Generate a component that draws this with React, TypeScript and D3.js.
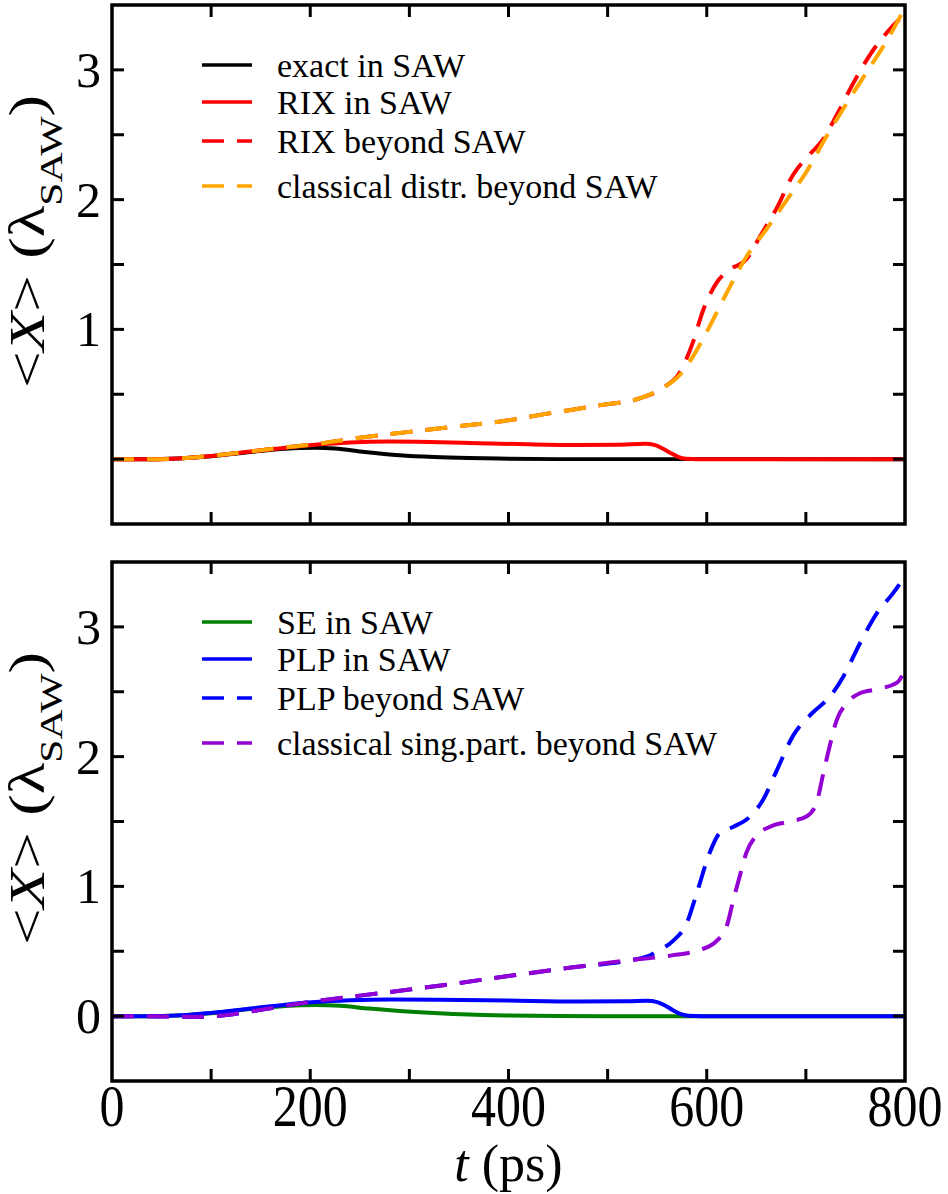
import React from "react";
import * as d3 from "d3";

type Pt = [number, number];

// upper panel: exact vs. RIX vs. classical distribution
const exactInSaw: Pt[] = [
  [0, 0], [45, 0], [75, 0.008], [100, 0.022], [140, 0.055], [175, 0.08], [205, 0.088],
  [225, 0.082], [255, 0.055], [290, 0.03], [325, 0.016], [360, 0.008], [400, 0.003],
  [450, 0], [800, 0],
];
const rixInSaw: Pt[] = [
  [0, 0], [45, 0], [75, 0.008], [100, 0.024], [140, 0.058], [175, 0.088], [205, 0.11],
  [240, 0.128], [280, 0.135], [320, 0.132], [370, 0.123], [420, 0.114], [470, 0.109],
  [510, 0.11], [538, 0.118], [548, 0.108], [556, 0.08], [564, 0.045], [571, 0.018],
  [579, 0.003], [590, 0], [800, 0],
];
const rixBeyondSaw: Pt[] = [
  [0, 0], [45, 0], [75, 0.008], [100, 0.025], [140, 0.06], [175, 0.09], [205, 0.115],
  [250, 0.165], [300, 0.21], [350, 0.255], [392, 0.29], [435, 0.345], [492, 0.415],
  [533, 0.47], [556, 0.55], [573, 0.67], [586, 0.9], [596, 1.14], [610, 1.36], [623, 1.46],
  [640, 1.54], [654, 1.72], [671, 1.94], [687, 2.19], [704, 2.35], [717, 2.46], [731, 2.65],
  [748, 2.9], [765, 3.12], [782, 3.29], [800, 3.43],
];
const classicalDistr: Pt[] = [
  [0, 0], [45, 0], [75, 0.008], [100, 0.025], [140, 0.06], [175, 0.09], [205, 0.115],
  [250, 0.165], [300, 0.21], [350, 0.255], [392, 0.29], [435, 0.345], [492, 0.415],
  [533, 0.47], [556, 0.55], [573, 0.65], [586, 0.79], [600, 0.98], [620, 1.28], [640, 1.56],
  [661, 1.78], [681, 2.0], [701, 2.22], [721, 2.49], [741, 2.74], [762, 2.99], [782, 3.23],
  [800, 3.48],
];

// lower panel: SE vs. PLP vs. classical single particle
const seInSaw: Pt[] = [
  [0, 0], [45, 0], [75, 0.008], [100, 0.022], [140, 0.055], [175, 0.078], [205, 0.086],
  [230, 0.08], [260, 0.058], [290, 0.04], [325, 0.024], [360, 0.012], [400, 0.005],
  [450, 0.001], [500, 0], [800, 0],
];
const plpInSaw: Pt[] = [
  [0, 0], [45, 0], [75, 0.008], [100, 0.025], [140, 0.058], [175, 0.088], [205, 0.108],
  [240, 0.122], [280, 0.128], [330, 0.127], [400, 0.12], [470, 0.113], [520, 0.114],
  [540, 0.118], [550, 0.108], [558, 0.082], [566, 0.045], [574, 0.015], [582, 0.002],
  [595, 0], [800, 0],
];
const plpBeyondSaw: Pt[] = [
  [0, 0], [40, 0], [60, -0.004], [85, -0.006], [105, 0], [125, 0.018], [150, 0.048],
  [175, 0.08], [200, 0.11], [250, 0.158], [300, 0.205], [350, 0.255], [391, 0.3],
  [459, 0.37], [526, 0.435], [540, 0.46], [550, 0.5], [566, 0.58], [580, 0.72], [590, 0.95],
  [603, 1.26], [613, 1.41], [627, 1.46], [644, 1.54], [657, 1.67], [671, 1.9], [687, 2.16],
  [707, 2.34], [724, 2.46], [738, 2.62], [755, 2.88], [772, 3.11], [788, 3.26], [800, 3.39],
];
const classicalSingPart: Pt[] = [
  [0, 0], [40, 0], [60, -0.004], [85, -0.006], [105, 0], [125, 0.018], [150, 0.048],
  [175, 0.08], [200, 0.11], [250, 0.158], [300, 0.205], [350, 0.255], [391, 0.3],
  [459, 0.37], [526, 0.435], [566, 0.47], [593, 0.51], [610, 0.58], [620, 0.69], [627, 0.9],
  [634, 1.1], [640, 1.26], [650, 1.39], [664, 1.46], [684, 1.5], [701, 1.54], [711, 1.65],
  [717, 1.85], [724, 2.08], [731, 2.28], [741, 2.41], [755, 2.49], [772, 2.52], [792, 2.57],
  [800, 2.67],
];

const topLabels = ["exact in SAW", "RIX in SAW", "RIX beyond SAW", "classical distr. beyond SAW"];
const bottomLabels = ["SE in SAW", "PLP in SAW", "PLP beyond SAW", "classical sing.part. beyond SAW"];
const topYTickLabels = [1, 2, 3];
const bottomYTickLabels = [0, 1, 2, 3];
const xTickLabels = [0, 200, 400, 600, 800];

const FONT = "'Liberation Serif', 'Times New Roman', serif";
const LEFT = 112;
const RIGHT = 905;
const DASH = "22,13";

interface Series {
  data: Pt[];
  color: string;
  dashed: boolean;
  label: string;
}

function Panel({ top, bottom, series, yTickLabels }: { top: number; bottom: number; series: Series[]; yTickLabels: number[] }) {
  const x = d3.scaleLinear().domain([0, 800]).range([LEFT, RIGHT]);
  const y = d3.scaleLinear().domain([-0.5, 3.5]).range([bottom, top]);
  const line = d3
    .line<Pt>()
    .x((d) => x(d[0]))
    .y((d) => y(d[1]))
    .curve(d3.curveMonotoneX);

  const xTicks = d3.range(100, 800, 100);
  const yTicks = d3.range(0, 3.01, 0.5);
  const tl = 12;
  const rowOffsets = [60, 97, 136, 181];

  return (
    <g>
      {series.map((s, i) => (
        <path
          key={i}
          d={line(s.data) || ""}
          fill="none"
          stroke={s.color}
          strokeWidth={4}
          strokeDasharray={s.dashed ? DASH : undefined}
        />
      ))}

      {/* inward ticks on all four sides */}
      <g stroke="#000" strokeWidth={3}>
        {xTicks.map((t) => (
          <g key={"x" + t}>
            <line x1={x(t)} x2={x(t)} y1={bottom} y2={bottom - tl} />
            <line x1={x(t)} x2={x(t)} y1={top} y2={top + tl} />
          </g>
        ))}
        {yTicks.map((v) => (
          <g key={"y" + v}>
            <line x1={LEFT} x2={LEFT + tl} y1={y(v)} y2={y(v)} />
            <line x1={RIGHT} x2={RIGHT - tl} y1={y(v)} y2={y(v)} />
          </g>
        ))}
      </g>
      <rect x={LEFT} y={top} width={RIGHT - LEFT} height={bottom - top} fill="none" stroke="#000" strokeWidth={3.5} />

      {yTickLabels.map((v) => (
        <text key={"yl" + v} x={101} y={y(v) + 17} textAnchor="end" fontSize={50} fontFamily={FONT}>
          {v}
        </text>
      ))}

      {/* legend */}
      {series.map((s, i) => (
        <g key={"lg" + i}>
          <line
            x1={202}
            x2={252}
            y1={top + rowOffsets[i]}
            y2={top + rowOffsets[i]}
            stroke={s.color}
            strokeWidth={3.5}
            strokeDasharray={s.dashed ? DASH : undefined}
          />
          <text x={277} y={top + rowOffsets[i] + 12} fontSize={34} fontFamily={FONT}>
            {s.label}
          </text>
        </g>
      ))}

      {/* y axis title, stretched along its length */}
      <text
        transform={`translate(44,${(top + bottom) / 2 - 23}) rotate(-90) scale(1.3,1)`}
        textAnchor="middle"
        fontSize={50}
        fontFamily={FONT}
      >
        <tspan>{"<"}</tspan>
        <tspan fontStyle="italic">X</tspan>
        <tspan>{"> ("}</tspan>
        <tspan>λ</tspan>
        <tspan fontSize={32} dy={18}>SAW</tspan>
        <tspan dy={-18}>)</tspan>
      </text>
    </g>
  );
}

export default function App() {
  const topSeries: Series[] = [
    { data: exactInSaw, color: "#000000", dashed: false, label: topLabels[0] },
    { data: rixInSaw, color: "#ff0000", dashed: false, label: topLabels[1] },
    { data: rixBeyondSaw, color: "#ff0000", dashed: true, label: topLabels[2] },
    { data: classicalDistr, color: "#ffa500", dashed: true, label: topLabels[3] },
  ];
  const bottomSeries: Series[] = [
    { data: seInSaw, color: "#008000", dashed: false, label: bottomLabels[0] },
    { data: plpInSaw, color: "#0000ff", dashed: false, label: bottomLabels[1] },
    { data: plpBeyondSaw, color: "#0000ff", dashed: true, label: bottomLabels[2] },
    { data: classicalSingPart, color: "#9400d3", dashed: true, label: bottomLabels[3] },
  ];
  const x = d3.scaleLinear().domain([0, 800]).range([LEFT, RIGHT]);

  return (
    <svg
      width={948}
      height={1194}
      style={{ position: "absolute", left: 0, top: 0, background: "#fff" }}
    >
      <rect width={948} height={1194} fill="#fff" />
      <Panel top={5} bottom={524} series={topSeries} yTickLabels={topYTickLabels} />
      <Panel top={562} bottom={1081} series={bottomSeries} yTickLabels={bottomYTickLabels} />

      {xTickLabels.map((t) => (
        <text
          key={t}
          transform={`translate(${x(t)},1126) scale(1,1.2)`}
          textAnchor="middle"
          fontSize={50}
          fontFamily={FONT}
        >
          {t}
        </text>
      ))}
      <text x={(LEFT + RIGHT) / 2} y={1181} textAnchor="middle" fontSize={52} fontFamily={FONT}>
        <tspan fontStyle="italic">t</tspan>
        <tspan> (ps)</tspan>
      </text>
    </svg>
  );
}
